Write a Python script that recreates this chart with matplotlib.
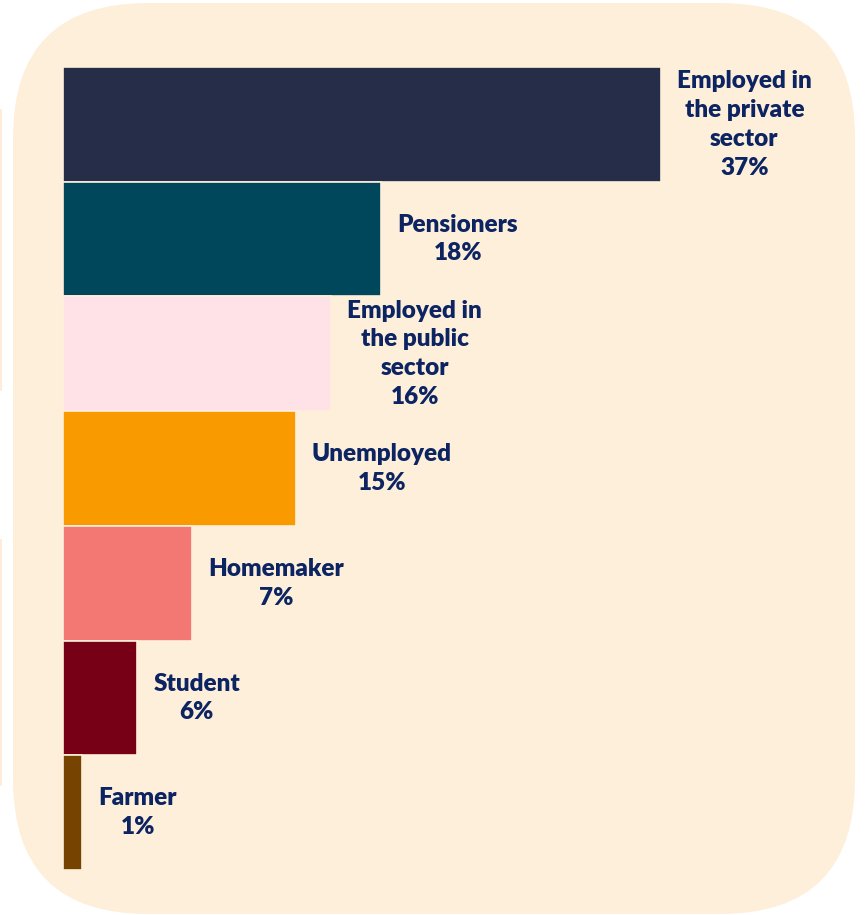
import matplotlib
matplotlib.use("Agg")
import matplotlib.pyplot as plt
from matplotlib.patches import FancyBboxPatch

# ---- data ----
categories = ["Employed in\nthe private\nsector", "Pensioners", "Employed in\nthe public\nsector",
              "Unemployed", "Homemaker", "Student", "Farmer"]
values = [37.0, 19.7, 16.6, 14.4, 8.0, 4.6, 1.2]          # bar lengths
value_labels = ["37%", "18%", "16%", "15%", "7%", "6%", "1%"]
colors = ["#262D48", "#00475C", "#FEE2E7", "#F89A00", "#F37873", "#780016", "#774300"]

BG = "#FEEFDB"
TXT = "#0C2461"

W, H = 865, 915
fig = plt.figure(figsize=(W / 100, H / 100), dpi=100)
fig.patch.set_facecolor("white")

# background axes in pixel coordinates
bg = fig.add_axes([0, 0, 1, 1], zorder=-1)
bg.set_xlim(0, W)
bg.set_ylim(H, 0)
bg.axis("off")
card = FancyBboxPatch((13, 3), 855 - 13, 914 - 3,
                      boxstyle="round,pad=0,rounding_size=135",
                      facecolor=BG, edgecolor="none")
bg.add_patch(card)
# faint edges of neighbouring cards
for y0, y1 in [(110, 390), (540, 785)]:
    bg.plot([0.6, 0.6], [y0, y1], color="#FDE9D0", lw=1.2)

# bars axes: bars from y=67 to 870 px, left 63 px
left, right = 63, 855
top, bottom = 67, 870
ax = fig.add_axes([left / W, 1 - bottom / H, (right - left) / W, (bottom - top) / H], zorder=1)
ax.patch.set_alpha(0)
n = len(values)
ypos = list(range(n))
ax.barh(ypos, values, height=1.0, color=colors, edgecolor=BG, linewidth=1.2)
ax.set_ylim(n - 0.5, -0.5)
scale_px = 598 / 37.0
ax.set_xlim(0, (right - left) / scale_px)
ax.axis("off")

for y, v, cat, lab in zip(ypos, values, categories, value_labels):
    ax.annotate(cat + "\n" + lab, xy=(v, y), xytext=(16, 0), textcoords="offset pixels",
                ha="left", va="center", multialignment="center",
                fontsize=17.5, fontweight="heavy", family=["Lato", "DejaVu Sans"],
                color=TXT, linespacing=1.38, annotation_clip=False)

fig.savefig("out.png", dpi=100, facecolor="white")
